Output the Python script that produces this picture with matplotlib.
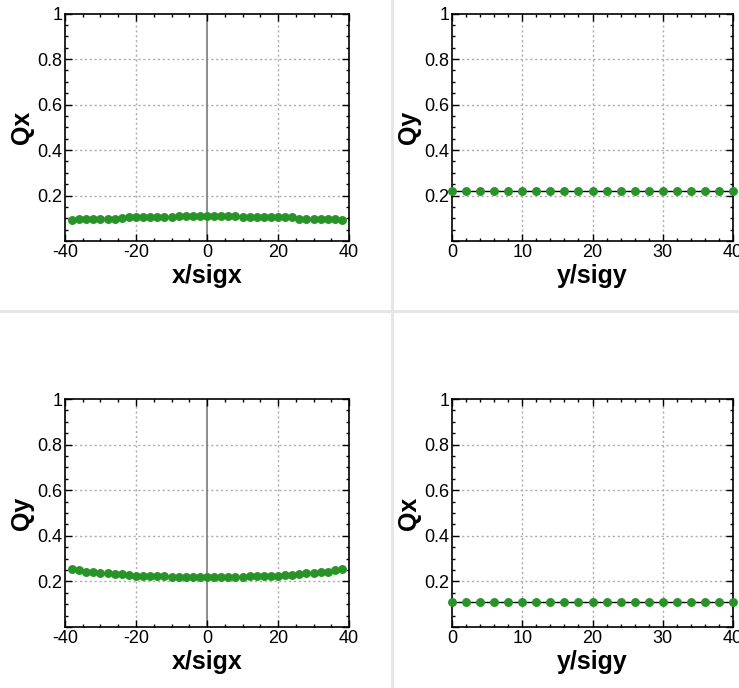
import matplotlib
matplotlib.use("Agg")
import matplotlib.pyplot as plt
from matplotlib.lines import Line2D
from matplotlib.ticker import MultipleLocator, FixedLocator

plt.rcParams["axes.unicode_minus"] = False

# ---- data -------------------------------------------------------------
x_sigx = list(range(-38, 39, 2))
qx_vs_x = [0.092, 0.097, 0.098, 0.098, 0.098, 0.098, 0.098, 0.102, 0.104, 0.104,
           0.104, 0.104, 0.104, 0.104, 0.105, 0.109, 0.109, 0.109, 0.109, 0.110,
           0.110, 0.110, 0.110, 0.110, 0.105, 0.104, 0.104, 0.104, 0.104, 0.104,
           0.104, 0.104, 0.098, 0.098, 0.098, 0.098, 0.098, 0.097, 0.092]
qy_vs_x = [0.254, 0.250, 0.241, 0.241, 0.237, 0.237, 0.232, 0.232, 0.228, 0.225,
           0.225, 0.225, 0.225, 0.225, 0.219, 0.219, 0.219, 0.219, 0.219, 0.219,
           0.219, 0.219, 0.219, 0.219, 0.219, 0.225, 0.225, 0.225, 0.225, 0.225,
           0.228, 0.228, 0.232, 0.235, 0.237, 0.241, 0.241, 0.248, 0.254]

y_sigy = list(range(0, 41, 2))
qy_vs_y = [0.218] * len(y_sigy)
qx_vs_y = [0.110] * len(y_sigy)

y_ticks = [0.2, 0.4, 0.6, 0.8, 1.0]
y_tick_labels = ["0.2", "0.4", "0.6", "0.8", "1"]

# ---- style ------------------------------------------------------------
W, H, DPI = 739, 688, 100
GREEN = "#289428"
TICK_FONT = dict(family=["Liberation Sans", "DejaVu Sans"], size=13)
LABEL_FONT = dict(family=["Liberation Sans", "DejaVu Sans"], size=18, weight="bold")

fig = plt.figure(figsize=(W / DPI, H / DPI), dpi=DPI)
fig.patch.set_facecolor("white")


def px_axes(left, top, right, bottom):
    return fig.add_axes([left / W, 1 - bottom / H, (right - left) / W, (bottom - top) / H])


def style_axes(ax, xlim, xmajor, xminor, zero_line):
    ax.set_xlim(*xlim)
    ax.set_ylim(0, 1)
    ax.xaxis.set_major_locator(MultipleLocator(xmajor))
    ax.xaxis.set_minor_locator(MultipleLocator(xminor))
    ax.yaxis.set_major_locator(FixedLocator([0.0] + y_ticks))
    ax.yaxis.set_minor_locator(MultipleLocator(0.05))
    ax.set_yticklabels([""] + y_tick_labels)
    ax.tick_params(which="both", direction="in", top=True, right=True,
                   colors="black", width=1.0, labelsize=TICK_FONT["size"], pad=2)
    ax.tick_params(which="major", length=5)
    ax.tick_params(which="minor", length=2.5)
    for lab in ax.get_xticklabels() + ax.get_yticklabels():
        lab.set_family(TICK_FONT["family"])
    for s in ax.spines.values():
        s.set_linewidth(1.2)
        s.set_color("black")
    # dotted grid on the major positions
    for gx in ax.get_xticks():
        if xlim[0] < gx < xlim[1] and not (zero_line and gx == 0):
            ax.axvline(gx, color="#ababab", lw=1.0, ls=(0, (1.5, 2)), zorder=0.5)
    for gy in y_ticks[:-1]:
        ax.axhline(gy, color="#ababab", lw=1.0, ls=(0, (1.5, 2)), zorder=0.5)
    if zero_line:
        ax.axvline(0, color="#7a7a7a", lw=1.2, zorder=0.6)


def draw_series(ax, xs, ys):
    ax.plot(xs, ys, color="black", lw=1.0, marker="o", markersize=5.4,
            markerfacecolor=GREEN, markeredgecolor=GREEN, clip_on=False, zorder=3)


# top-left: Qx vs x/sigx
ax1 = px_axes(65, 13.5, 349, 241)
style_axes(ax1, (-40, 40), 20, 5, True)
draw_series(ax1, x_sigx, qx_vs_x)
ax1.set_xlabel("x/sigx", labelpad=2, **LABEL_FONT)
ax1.set_ylabel("Qx", labelpad=2, **LABEL_FONT)

# top-right: Qy vs y/sigy
ax2 = px_axes(452, 13.5, 733, 241)
style_axes(ax2, (0, 40), 10, 2, False)
draw_series(ax2, y_sigy, qy_vs_y)
ax2.set_xlabel("y/sigy", labelpad=2, **LABEL_FONT)
ax2.set_ylabel("Qy", labelpad=2, **LABEL_FONT)

# bottom-left: Qy vs x/sigx
ax3 = px_axes(65, 399, 349, 627)
style_axes(ax3, (-40, 40), 20, 5, True)
draw_series(ax3, x_sigx, qy_vs_x)
ax3.set_xlabel("x/sigx", labelpad=2, **LABEL_FONT)
ax3.set_ylabel("Qy", labelpad=2, **LABEL_FONT)

# bottom-right: Qx vs y/sigy
ax4 = px_axes(452, 399, 733, 627)
style_axes(ax4, (0, 40), 10, 2, False)
draw_series(ax4, y_sigy, qx_vs_y)
ax4.set_xlabel("y/sigy", labelpad=2, **LABEL_FONT)
ax4.set_ylabel("Qx", labelpad=2, **LABEL_FONT)

# light panel separators
fig.add_artist(Line2D([392 / W, 392 / W], [0, 1], transform=fig.transFigure,
                      color="#e6e6e6", lw=2.2, zorder=-1))
fig.add_artist(Line2D([0, 1], [1 - 311 / H, 1 - 311 / H], transform=fig.transFigure,
                      color="#e6e6e6", lw=2.2, zorder=-1))

fig.savefig("out.png", dpi=DPI, facecolor="white")
